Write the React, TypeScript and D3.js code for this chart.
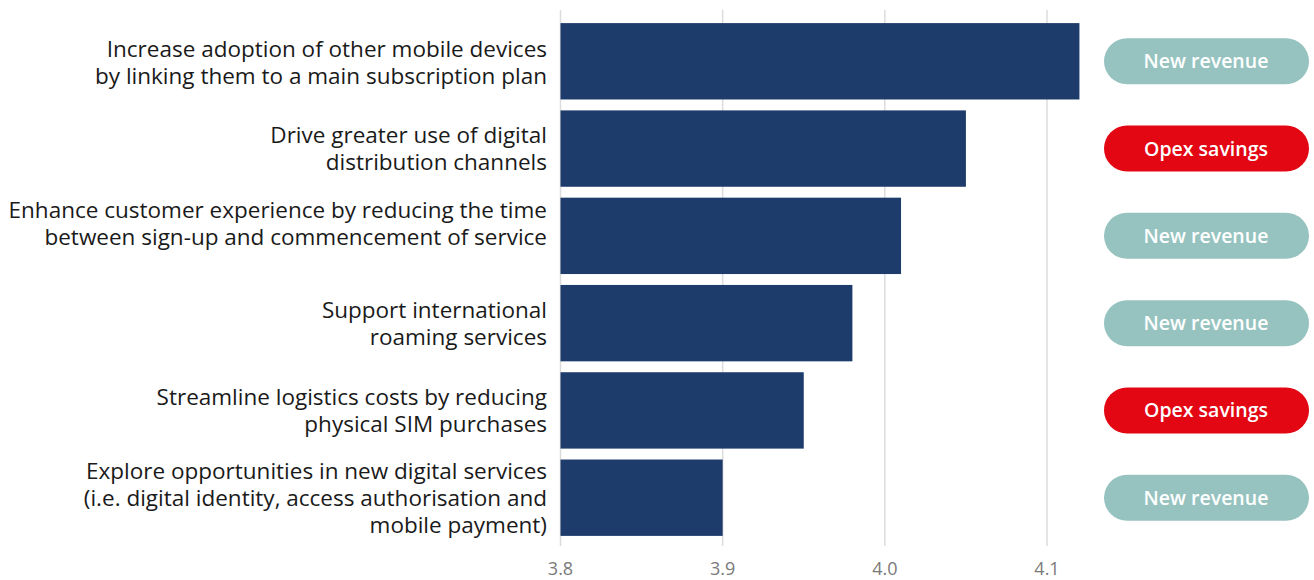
import React from "react";
import * as d3 from "d3";

const categories: string[][] = [
  ["Increase adoption of other mobile devices", "by linking them to a main subscription plan"],
  ["Drive greater use of digital", "distribution channels"],
  ["Enhance customer experience by reducing the time", "between sign-up and commencement of service"],
  ["Support international", "roaming services"],
  ["Streamline logistics costs by reducing", "physical SIM purchases"],
  ["Explore opportunities in new digital services", "(i.e. digital identity, access authorisation and", "mobile payment)"],
];
const values: number[] = [4.12, 4.05, 4.01, 3.98, 3.95, 3.9];
const badges: string[] = ["New revenue", "Opex savings", "New revenue", "New revenue", "Opex savings", "New revenue"];
const tickValues: number[] = [3.8, 3.9, 4.0, 4.1];

const W = 1314;
const H = 580;
const FONT = "'Open Sans', 'Noto Sans', sans-serif";

export default function App() {
  const x = d3.scaleLinear().domain([3.8, 4.1]).range([560.5, 1047]);
  const y = d3
    .scaleBand<number>()
    .domain(d3.range(values.length))
    .range([17, 542])
    .paddingInner(0.125)
    .paddingOuter(0.07);
  const bw = y.bandwidth();
  const labelOffset = [1, 0, -12, 0, 0, 0];
  const lineH = 27;
  return (
    <svg width={W} height={H} style={{ position: "absolute", left: 0, top: 0 }} fontFamily={FONT}>
      <rect width={W} height={H} fill="#fff" />
      {tickValues.map((t) => (
        <g key={t}>
          <line x1={x(t)} x2={x(t)} y1={10} y2={546} stroke="#dcdcdc" strokeWidth={1.5} />
          <text x={x(t)} y={575} textAnchor="middle" fontSize={18} fill="#7a7a7a">
            {d3.format(".1f")(t)}
          </text>
        </g>
      ))}
      {values.map((v, i) => {
        const cy = (y(i) as number) + bw / 2;
        const lines = categories[i];
        const startY = cy - ((lines.length - 1) * lineH) / 2 + labelOffset[i];
        const isOpex = badges[i] === "Opex savings";
        return (
          <g key={i}>
            <rect x={x(3.8)} y={y(i)} width={x(v) - x(3.8)} height={bw} fill="#1d3c6b" />
            <text textAnchor="end" fontSize={22.5} fill="#1a1a1a">
              {lines.map((l, j) => (
                <tspan key={j} x={547} y={startY + j * lineH} dy="0.35em">
                  {l}
                </tspan>
              ))}
            </text>
            <rect x={1104} y={cy - 23} width={205} height={46} rx={23} fill={isOpex ? "#e30613" : "#96c3bf"} />
            <text x={1206} y={cy} dy="0.36em" textAnchor="middle" fontSize={19.5} fontWeight={600} fill="#fff">
              {badges[i]}
            </text>
          </g>
        );
      })}
    </svg>
  );
}
